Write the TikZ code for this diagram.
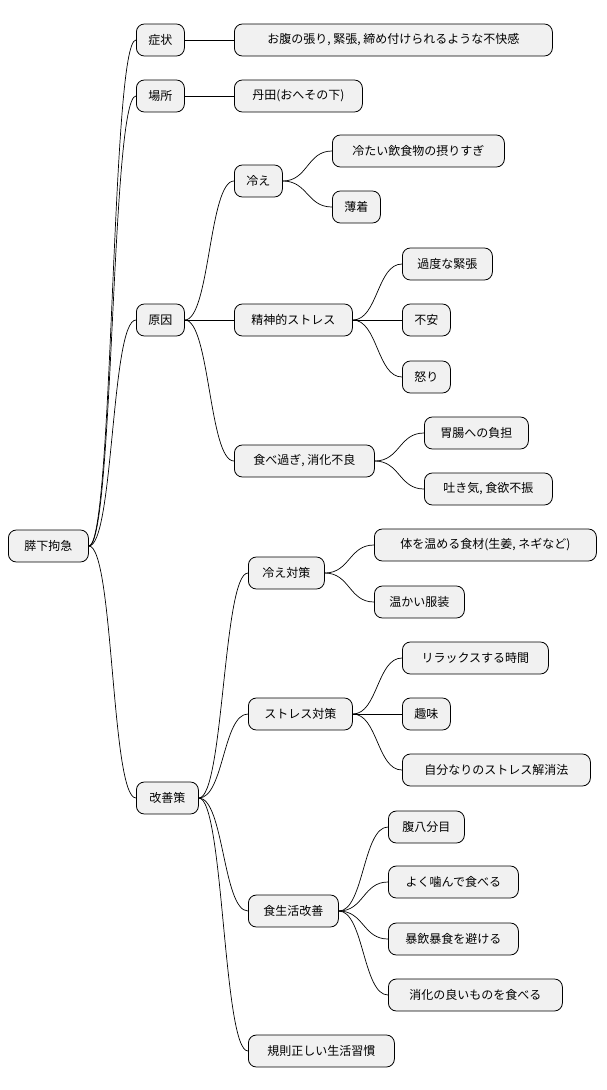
\documentclass[tikz,border=0pt]{standalone}
\usepackage{fontspec}
\setmainfont{Noto Sans CJK JP}
\begin{document}
\begin{tikzpicture}[x=1pt,y=-1pt,
  n/.style={draw=black,fill={rgb,255:red,241;green,241;blue,241},rounded corners=8pt,line width=0.8pt,minimum height=32pt,anchor=west,inner xsep=0pt,font=\fontsize{12}{14}\selectfont},
  c/.style={line width=0.7pt}]
\useasboundingbox (0,0) rectangle (606,1090);
\newcommand\nd[5]{\node[n,minimum width={#4-#3}] (#1) at (#3,#5) {#2};}
\nd{r}{膵下拘急}{8}{88}{546}
\nd{a}{症状}{136}{184}{40}
\nd{a1}{お腹の張り, 緊張, 締め付けられるような不快感}{234}{552}{40}
\nd{b}{場所}{136}{184}{96}
\nd{b1}{丹田(おへその下)}{234}{362}{96}
\nd{c}{原因}{136}{184}{320}
\nd{c1}{冷え}{234}{282}{181}
\nd{c11}{冷たい飲食物の摂りすぎ}{332}{504}{151}
\nd{c12}{薄着}{332}{380}{207}
\nd{c2}{精神的ストレス}{234}{352}{320}
\nd{c21}{過度な緊張}{402}{492}{264}
\nd{c22}{不安}{402}{450}{320}
\nd{c23}{怒り}{402}{450}{377}
\nd{c3}{食べ過ぎ, 消化不良}{234}{374}{461}
\nd{c31}{胃腸への負担}{424}{528}{433}
\nd{c32}{吐き気, 食欲不振}{424}{552}{489}
\nd{d}{改善策}{136}{198}{798}
\nd{d1}{冷え対策}{248}{324}{573}
\nd{d11}{体を温める食材(生姜, ネギなど)}{374}{596}{545}
\nd{d12}{温かい服装}{374}{464}{602}
\nd{d2}{ストレス対策}{248}{352}{714}
\nd{d21}{リラックスする時間}{402}{548}{658}
\nd{d22}{趣味}{402}{450}{714}
\nd{d23}{自分なりのストレス解消法}{402}{590}{770}
\nd{d3}{食生活改善}{248}{338}{911}
\nd{d31}{腹八分目}{388}{464}{827}
\nd{d32}{よく噛んで食べる}{388}{518}{882}
\nd{d33}{暴飲暴食を避ける}{388}{518}{939}
\nd{d34}{消化の良いものを食べる}{388}{562}{995}
\nd{d4}{規則正しい生活習慣}{248}{394}{1051}
\foreach \p/\q in {r/a,r/b,r/c,r/d,a/a1,b/b1,c/c1,c/c2,c/c3,c1/c11,c1/c12,c2/c21,c2/c22,c2/c23,c3/c31,c3/c32,d/d1,d/d2,d/d3,d/d4,d1/d11,d1/d12,d2/d21,d2/d22,d2/d23,d3/d31,d3/d32,d3/d33,d3/d34}
  \draw[c] (\p.east) .. controls +(25,0) and +(-25,0) .. (\q.west);
\end{tikzpicture}
\end{document}
